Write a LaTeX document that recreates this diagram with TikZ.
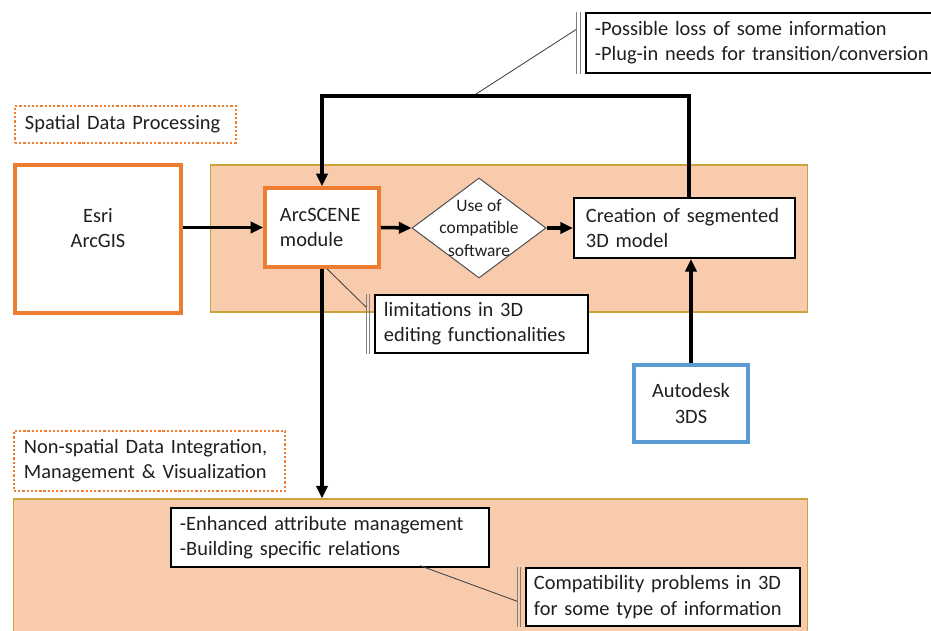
\documentclass[tikz,border=0pt]{standalone}
\usepackage{fontspec}
\setmainfont{Carlito}
\usetikzlibrary{arrows.meta,shapes.geometric,positioning,calc}
\definecolor{accent}{HTML}{ED7D31}
\definecolor{bandfill}{HTML}{F8CBAD}
\definecolor{banddraw}{HTML}{C9A43A}
\definecolor{blueline}{HTML}{5B9BD5}
\definecolor{txt}{HTML}{1F1F1F}

\begin{document}
\begin{tikzpicture}[x=0.025cm, y=-0.025cm,
    every node/.style={font=\fontsize{14.5}{18}\selectfont, text=txt},
    band/.style={draw=banddraw, fill=bandfill, line width=0.8pt, inner sep=0pt},
    tool/.style={draw=accent, line width=2.2pt, fill=white, align=center},
    box/.style={draw, line width=1.5pt, fill=white, align=left, inner ysep=0pt},
    note/.style={draw, line width=0.9pt, fill=white, align=left, inner ysep=0pt},
    tag/.style={draw=accent, line width=2pt, dash pattern=on 1.6pt off 1.4pt, align=left, inner ysep=0pt},
    dia/.style={diamond, draw=black!70, line width=0.7pt, fill=white, inner sep=0pt},
    diatext/.style={font=\fontsize{12.4}{15.8}\selectfont, align=center},
    arr/.style={-{Triangle[length=9pt,width=8pt]}, line width=2.5pt},
    lead/.style={draw=black!75, line width=0.6pt},
    bar/.style={draw=black!50, line width=0.6pt}
]
\useasboundingbox (0,0) rectangle (931,630);

\node[band, minimum width=14.9cm, minimum height=3.675cm] (spatial) at (509,238.5) {};
\node[band, minimum width=19.825cm, minimum height=3.525cm] (nonspatial) at (410.5,569.5) {};

\node[tag, minimum width=5.525cm, minimum height=0.925cm, text width=5.025cm, inner xsep=0.25cm] (spatialtag) at (125.5,124.5) {Spatial Data Processing};
\node[tag, minimum width=6.775cm, minimum height=1.5cm, text width=6.275cm, inner xsep=0.25cm] (nonspatialtag) at (149.5,461) {Non-spatial Data Integration,\\Management \& Visualization};

\node[tool, minimum width=4.15cm, minimum height=3.7cm, text depth=0.55cm] (esri) at (98,239) {Esri\\ArcGIS};
\node[tool, line width=2.6pt, align=left, minimum width=2.85cm, minimum height=1.975cm, text width=2.1cm, inner xsep=0.375cm] (arcscene) at (322,227.5) {ArcSCENE\\module};
\node[dia, minimum width=3.35cm, minimum height=2.5cm, label={[diatext]center:Use of\\compatible\\software}] (use) at (479,228) {};
\node[box, minimum width=5.525cm, minimum height=1.5cm, text width=4.925cm, inner xsep=0.3cm] (creation) at (684.5,228) {Creation of segmented\\3D model};
\node[tool, draw=blueline, minimum width=2.85cm, minimum height=1.925cm] (autodesk) at (691,403.5) {Autodesk\\3DS};

\node[note, minimum width=9.2cm, minimum height=1.5cm, text width=8.75cm, inner xsep=0.225cm] (topnote) at (770,43) {-Possible loss of some information\\-Plug-in needs for transition/conversion};
\node[note, minimum width=5.325cm, minimum height=1.45cm, text width=4.875cm, inner xsep=0.225cm] (limits) at (481.5,324) {limitations in 3D\\editing functionalities};
\node[note, minimum width=7.95cm, minimum height=1.475cm, text width=7.5cm, inner xsep=0.225cm] (enhanced) at (330,537.5) {-Enhanced attribute management\\-Building specific relations};
\node[note, minimum width=6.85cm, minimum height=1.45cm, text width=6.45cm, inner xsep=0.2cm] (compat) at (663,597) {Compatibility problems in 3D\\for some type of information};

\coordinate (fbR) at (689,96);
\coordinate (fbL) at (322,96);
\coordinate (fbT) at (473,96);

\draw[bar] ($(topnote.north west)+(-9,0)$) -- ($(topnote.south west)+(-9,0)$);
\draw[bar] ($(topnote.north west)+(-5,0)$) -- ($(topnote.south west)+(-5,0)$);
\draw[bar] ($(limits.north west)+(-8,0)$) -- ($(limits.south west)+(-8,0)$);
\draw[bar] ($(limits.north west)+(-5,0)$) -- ($(limits.south west)+(-5,0)$);
\draw[bar] ($(compat.north west)+(-8,0)$) -- ($(compat.south west)+(-8,0)$);
\draw[bar] ($(compat.north west)+(-5,0)$) -- ($(compat.south west)+(-5,0)$);

\draw[lead] (fbT) -- ($(topnote.north west)+(-9,17)$);
\draw[lead] ($(arcscene.south)+(5,0)$) -- ($(limits.north west)+(-8,13)$);
\draw[lead] ($(enhanced.south)+(90,-2)$) -- ($(compat.north west)+(-8,34)$);

\draw[arr] (esri.east |- arcscene.west) -- (arcscene.west);
\draw[arr] (arcscene.east) -- (use.west);
\draw[arr] (use.east) -- (creation.west);
\draw[arr] (creation.north -| fbR) -- (fbR) -- (fbL) -- (arcscene.north);
\draw[arr] (arcscene.south) -- (arcscene.south |- nonspatial.north);
\draw[arr] (autodesk.north) -- (autodesk.north |- creation.south);
\end{tikzpicture}
\end{document}
